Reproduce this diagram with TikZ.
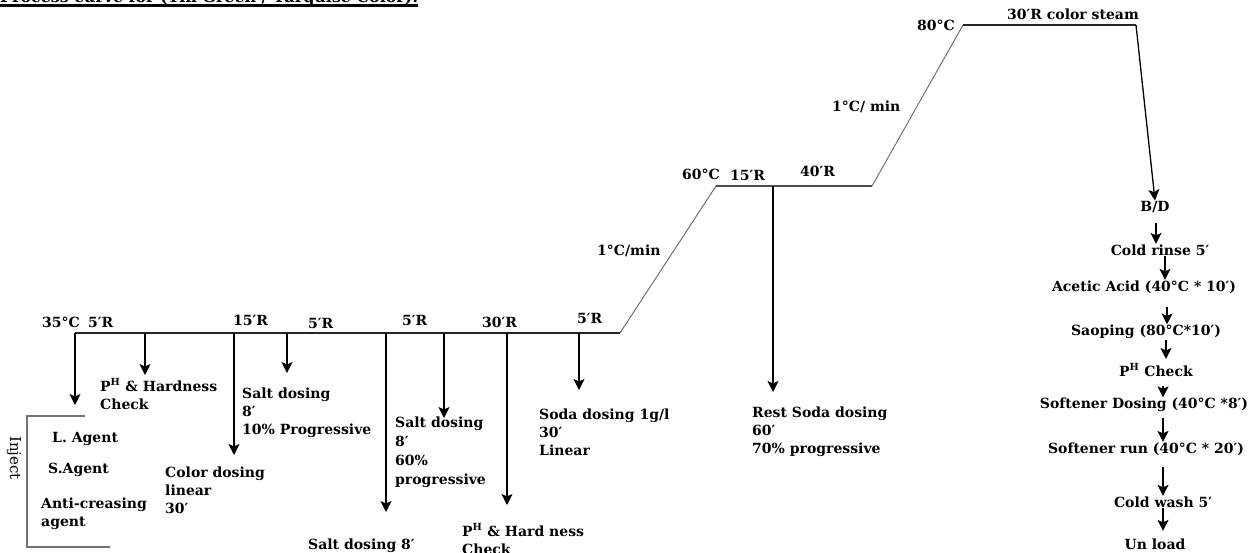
\documentclass[tikz,border=0pt]{standalone}
\usepackage{fontspec}
\setmainfont{DejaVu Serif}
\usetikzlibrary{arrows.meta}
\begin{document}
\begin{tikzpicture}[x=1pt,y=-1pt,
  lbl/.style={font=\bfseries\fontsize{14}{18}\selectfont, inner sep=0pt},
  mlbl/.style={lbl, align=left, anchor=north west},
  slbl/.style={lbl, anchor=base west},
  clbl/.style={lbl, inner sep=0.5pt},
  arr/.style={-{Stealth[width=11pt,length=11pt,inset=2.5pt]}, line width=1.3pt, black},
  curvethick/.style={line width=1.7pt, black!85},
  curvethin/.style={line width=0.9pt, black!60},
  bracket/.style={line width=1.4pt, black!55},
]
\useasboundingbox (0,0) rectangle (1260,553);

% title (cut by the top edge)
\node[anchor=base west, inner sep=0pt, font=\bfseries\fontsize{17}{20}\selectfont] (title) at (0,3)
  {\resizebox{418pt}{!}{Process curve for (Tin Green / Turquise Color):}};
\draw[line width=3pt] ([yshift=-2.8pt]title.base west) -- ([yshift=-2.8pt]title.base east);

% process curve
\coordinate (p0) at (75,333);
\coordinate (p1) at (620,333);
\coordinate (p2) at (716,186);
\coordinate (p3) at (872,186);
\coordinate (p4) at (963,25);
\coordinate (p5) at (1136,25);
\draw[curvethick] (p0) -- (p1);
\draw[curvethin] (p1) -- (p2);
\draw[line width=1.2pt, black!70] (p2) -- (p3);
\draw[curvethin] (p3) -- (p4);
\draw[curvethick] (p4) -- (p5);

% labels on the curve
\node[slbl] (t35) at (42,327) {35°C};
\node[slbl] (r5a) at (88,327) {5′R};
\node[slbl] (r15a) at (233,325) {15′R};
\node[slbl] (r5b) at (308,328) {5′R};
\node[slbl] (r5c) at (402,325) {5′R};
\node[slbl] (r30a) at (482,327) {30′R};
\node[slbl] (r5d) at (577,323) {5′R};
\node[slbl] (g1) at (597,255) {1°C/min};
\node[slbl] (t60) at (682,180) {60°C};
\node[slbl] (r15b) at (730,181) {15′R};
\node[slbl] (r40) at (800,177) {40′R};
\node[slbl] (g2) at (832,112) {1°C/ min};
\node[slbl] (t80) at (917,31) {80°C};
\node[slbl] (steam) at (1007,20) {30′R color steam};

% drop arrows from the curve
\foreach \n/\x/\y in {a1/75/405, a2/145/375, a3/234/455, a4/287/373, a5/386/512, a6/444/418, a7/507/505, a8/579/390}{
  \coordinate (\n s) at (\x,333);
  \coordinate (\n e) at (\x,\y);
  \draw[arr] (\n s) -- (\n e);
}
\coordinate (a9s) at (773,186);
\coordinate (a9e) at (773,392);
\draw[arr] (a9s) -- (a9e);

% inject bracket
\coordinate (ib1) at (85,416);
\coordinate (ib2) at (27,416);
\coordinate (ib3) at (27,547);
\coordinate (ib4) at (110,547);
\draw[bracket] (ib1) -- (ib2) -- (ib3) -- (ib4);
\node[rotate=-90, inner sep=0pt, font=\fontsize{15}{18}\selectfont] (inject) at (14,458) {Inject};

% texts below the curve
\node[mlbl] (ph1) at (100,378.4) {\strut P\textsuperscript{H} \& Hardness\\Check};
\node[slbl] (lag) at (52,442) {L. Agent};
\node[slbl] (sag) at (48,473) {S.Agent};
\node[mlbl] (anti) at (41,495.4) {\strut Anti-creasing\\agent};
\node[mlbl] (color) at (165,464.4) {\strut Color dosing\\linear\\30′};
\node[mlbl] (salt1) at (242,385.4) {\strut Salt dosing\\8′\\10\% Progressive};
\node[mlbl] (salt2) at (395,414.4) {\strut Salt dosing\\[1pt]8′\\[1pt]60\%\\[1pt]progressive};
\node[slbl] (salt3) at (308,549) {Salt dosing 8′};
\node[mlbl] (ph2) at (462,523.4) {\strut P\textsuperscript{H} \& Hard ness\\Check};
\node[mlbl] (soda) at (539,406.4) {\strut Soda dosing 1g/l\\30′\\Linear};
\node[mlbl] (rest) at (752,404.4) {\strut Rest Soda dosing\\60′\\70\% progressive};

% after-treatment column
\node[clbl] (c1) at (1155,207) {B/D};
\node[clbl] (c2) at (1160,250) {Cold rinse 5′};
\node[clbl] (c3) at (1144,287) {Acetic Acid (40°C * 10′)};
\node[clbl] (c4) at (1146,332) {Saoping (80°C*10′)};
\node[clbl] (c5) at (1156,370) {P\textsuperscript{H} Check};
\node[clbl] (c6) at (1144,405) {Softener Dosing (40°C *8′)};
\node[clbl] (c7) at (1146,449) {Softener run (40°C * 20′)};
\node[clbl] (c8) at (1163,502) {Cold wash 5′};
\node[clbl] (c9) at (1155,544) {Un load};

\draw[arr] (p5) -- (c1.north);
\coordinate (x1) at (1156,0);
\coordinate (x2) at (1165,0);
\coordinate (x3) at (1167,0);
\coordinate (x4) at (1166,0);
\coordinate (x5) at (1163,0);
\draw[arr, shorten <=10pt] (c1.south -| x1) -- (c2.north -| x1);
\draw[arr] (c2.south -| x2) -- (c3.north -| x2);
\draw[arr, shorten <=13pt] (c3.south -| x3) -- (c4.north -| x3);
\draw[arr, shorten >=4pt] (c4.south -| x4) -- (c5.north -| x4);
\draw[arr, shorten <=9pt] (c5.south -| x5) -- (c6.north -| x5);
\draw[arr, shorten <=5pt] (c6.south -| x5) -- (c7.north -| x5);
\draw[arr, shorten <=11pt] (c7.south -| x5) -- (c8.north -| x5);
\draw[arr, shorten >=7pt] (c8.south -| x5) -- (c9.north -| x5);
\end{tikzpicture}
\end{document}
